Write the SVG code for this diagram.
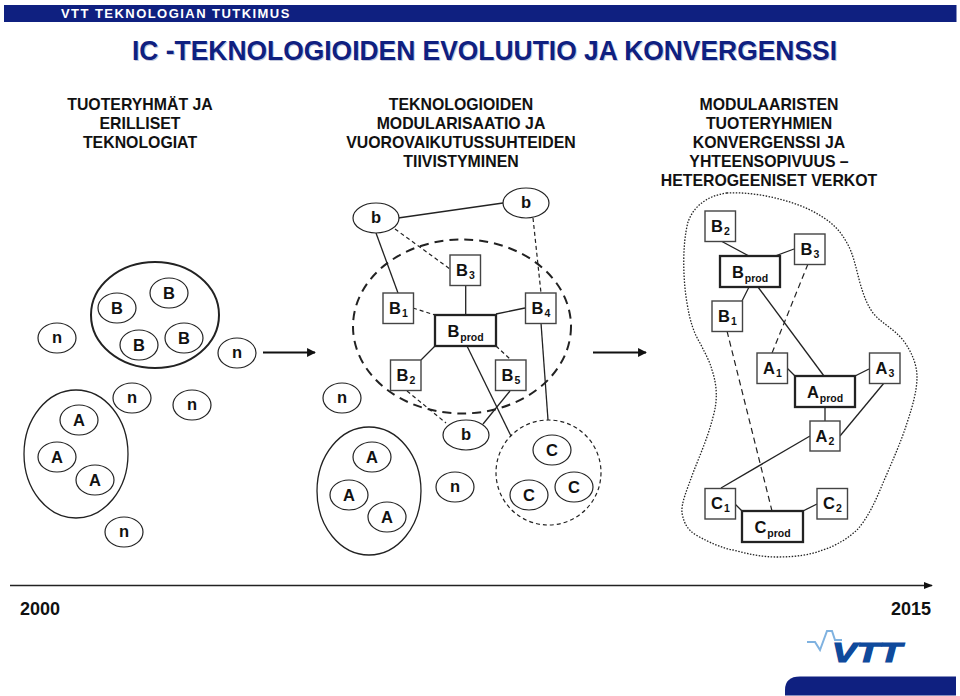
<svg xmlns="http://www.w3.org/2000/svg" width="960" height="696" viewBox="0 0 960 696">
<style>
text{font-family:"Liberation Sans",Arial,sans-serif;font-weight:bold;fill:#111}
.h{font-size:15.85px;text-anchor:middle}
.l{font-size:16.5px;text-anchor:middle}
.s{font-size:10.5px}
.y{font-size:18px}
.e{fill:#fff;stroke:#222;stroke-width:1.2}
.g{fill:none;stroke:#222;stroke-width:1.3}
.r{fill:#fff;stroke:#444;stroke-width:1.4}
.p{fill:#fff;stroke:#222;stroke-width:2.3}
.c{fill:none;stroke:#222;stroke-width:1.3}
.d{fill:none;stroke:#222;stroke-width:1.2;stroke-dasharray:4 3}
.a{fill:none;stroke:#111;stroke-width:2.2}
</style>
<defs>
<marker id="ah" viewBox="0 0 10 10" refX="9" refY="5" markerWidth="4" markerHeight="4" orient="auto"><path d="M0 0L10 5L0 10Z" fill="#111"/></marker>
<marker id="at" viewBox="0 0 10 10" refX="9" refY="5" markerWidth="7" markerHeight="7" orient="auto"><path d="M0 1L10 5L0 9Z" fill="#111"/></marker>
</defs>

<rect x="4" y="5" width="952.500" height="17" fill="#0f2080"/>
<text x="61" y="18" font-size="13" letter-spacing="1.45" style="fill:#fff">VTT TEKNOLOGIAN TUTKIMUS</text>
<text x="133" y="60.500" font-size="28.500" textLength="705" lengthAdjust="spacingAndGlyphs" style="fill:#c3c8dc">IC -TEKNOLOGIOIDEN EVOLUUTIO JA KONVERGENSSI</text>
<text x="132" y="60" font-size="28.500" textLength="705" lengthAdjust="spacingAndGlyphs" style="fill:#0f2080">IC -TEKNOLOGIOIDEN EVOLUUTIO JA KONVERGENSSI</text>

<g>
<text class="h" x="140" y="110">TUOTERYHMÄT JA</text>
<text class="h" x="140" y="129">ERILLISET</text>
<text class="h" x="140" y="148">TEKNOLOGIAT</text>
<text class="h" x="461" y="110">TEKNOLOGIOIDEN</text>
<text class="h" x="461" y="129">MODULARISAATIO JA</text>
<text class="h" x="461" y="148">VUOROVAIKUTUSSUHTEIDEN</text>
<text class="h" x="461" y="167">TIIVISTYMINEN</text>
<text class="h" x="769" y="110">MODULAARISTEN</text>
<text class="h" x="769" y="129">TUOTERYHMIEN</text>
<text class="h" x="769" y="148">KONVERGENSSI JA</text>
<text class="h" x="769" y="167">YHTEENSOPIVUUS –</text>
<text class="h" x="769" y="186">HETEROGEENISET VERKOT</text>
</g>

<g id="groups">
<ellipse cx="155" cy="315" rx="64" ry="53" fill="none" stroke="#222" stroke-width="2"/>
<ellipse class="g" cx="76" cy="454" rx="52" ry="64"/>
<ellipse class="g" cx="369" cy="491" rx="52" ry="64"/>
<ellipse cx="462" cy="326.500" rx="109" ry="87" fill="none" stroke="#222" stroke-width="2" stroke-dasharray="9 6"/>
<ellipse class="d" cx="548.500" cy="472.500" rx="52.500" ry="52.500"/>
<path id="blob" fill="none" stroke="#222" stroke-width="1.3" stroke-dasharray="1.5 1.5" d="M727 193C705 196 693 208 688 222C682 245 683 280 687 303C690 322 694 333 700 343C706 355 710 362 712 370C717 385 718 400 713 417C708 437 700 455 693 473C687 490 681 503 682 513C684 524 688 530 696 535C710 543 722 548 733 550C748 554 762 557 777 557C795 557 810 555 823 550C838 545 848 538 857 530C868 518 876 500 883 483C892 462 901 442 907 423C913 405 917 390 917 377C917 365 912 352 903 340C893 328 881 323 873 313C866 303 863 293 860 283C856 268 853 253 847 243C841 232 835 226 827 220C813 210 798 204 783 200C765 195 745 192 727 193Z"/>
</g>

<g id="connectors">
<path class="a" marker-end="url(#ah)" d="M263 352.500H315"/>
<path class="a" marker-end="url(#ah)" d="M593 352.500H646"/>
<path class="c" stroke-width="1.5" marker-end="url(#at)" d="M10 585.500H932"/>
<path class="c" d="M398 218L503 203"/>
<path class="d" d="M395 229L450 269"/>
<path class="c" d="M376 233L398 293"/>
<path class="c" d="M465.700 285V315"/>
<path class="d" d="M413 308L435 315"/>
<path class="c" d="M525 308L496 314"/>
<path class="d" d="M533 218L541 293"/>
<path class="c" d="M541 323L548 420"/>
<path class="c" d="M435 346L421 360"/>
<path class="d" d="M496 346L510 359"/>
<path class="c" d="M467 346L511 436"/>
<path class="c" d="M510 391L483 424"/>
<path class="d" d="M407 391L446 423"/>
<path class="c" d="M721 241L749 256"/>
<path class="c" d="M794 249L775 256"/>
<path class="c" d="M749 287L742 301"/>
<path class="d" style="stroke-dasharray:6 4" d="M808 264L772 353"/>
<path class="c" d="M758 287L824 376"/>
<path class="d" style="stroke-dasharray:6 4" d="M727 331L772 511"/>
<path class="c" d="M787 368L795 376"/>
<path class="c" d="M869 369L855 376"/>
<path class="c" d="M825 407V421"/>
<path class="c" d="M884 383L840 436"/>
<path class="c" d="M810 436L721 488"/>
<path class="c" d="M735 504L742 511"/>
<path class="c" d="M817 504L803 511"/>
</g>

<g id="n1"><ellipse class="e" cx="57" cy="338" rx="19" ry="15"/><text class="l" x="57" y="343">n</text></g>
<g id="b1"><ellipse class="e" cx="117" cy="308" rx="19" ry="15"/><text class="l" x="117" y="313.500">B</text></g>
<g id="b2"><ellipse class="e" cx="169" cy="293" rx="19" ry="15"/><text class="l" x="169" y="298.500">B</text></g>
<g id="b3"><ellipse class="e" cx="139" cy="345" rx="19" ry="15"/><text class="l" x="139" y="350.500">B</text></g>
<g id="b4"><ellipse class="e" cx="184" cy="338" rx="19" ry="15"/><text class="l" x="184" y="343.500">B</text></g>
<g id="n2"><ellipse class="e" cx="237" cy="353" rx="19" ry="15"/><text class="l" x="237" y="358">n</text></g>
<g id="a1"><ellipse class="e" cx="79" cy="420" rx="19" ry="15"/><text class="l" x="79" y="425.500">A</text></g>
<g id="a2"><ellipse class="e" cx="57" cy="457" rx="19" ry="15"/><text class="l" x="57" y="462.500">A</text></g>
<g id="a3"><ellipse class="e" cx="95" cy="480" rx="19" ry="15"/><text class="l" x="95" y="485.500">A</text></g>
<g id="n3"><ellipse class="e" cx="132" cy="398" rx="19" ry="15"/><text class="l" x="132" y="403">n</text></g>
<g id="n4"><ellipse class="e" cx="192" cy="405" rx="19" ry="15"/><text class="l" x="192" y="410">n</text></g>
<g id="n5"><ellipse class="e" cx="124" cy="532" rx="19" ry="15"/><text class="l" x="124" y="537">n</text></g>

<g id="mb1"><ellipse class="e" cx="376" cy="218" rx="23" ry="15"/><text class="l" x="376" y="223">b</text></g>
<g id="mb2"><ellipse class="e" cx="526" cy="203" rx="23" ry="15"/><text class="l" x="526" y="208">b</text></g>
<g id="mb3"><ellipse class="e" cx="466" cy="435" rx="23" ry="15"/><text class="l" x="466" y="440">b</text></g>
<g id="mn1"><ellipse class="e" cx="342" cy="398" rx="19" ry="15"/><text class="l" x="342" y="403">n</text></g>
<g id="mn2"><ellipse class="e" cx="455" cy="487" rx="19" ry="15"/><text class="l" x="455" y="492">n</text></g>
<g id="ma1"><ellipse class="e" cx="372" cy="457" rx="19" ry="15"/><text class="l" x="372" y="462.500">A</text></g>
<g id="ma2"><ellipse class="e" cx="349" cy="495" rx="19" ry="15"/><text class="l" x="349" y="500.500">A</text></g>
<g id="ma3"><ellipse class="e" cx="387" cy="517" rx="19" ry="15"/><text class="l" x="387" y="522.500">A</text></g>
<g id="mc1"><ellipse class="e" cx="552" cy="450" rx="19" ry="15"/><text class="l" x="552" y="455.500">C</text></g>
<g id="mc2"><ellipse class="e" cx="574" cy="487" rx="19" ry="15"/><text class="l" x="574" y="492.500">C</text></g>
<g id="mc3"><ellipse class="e" cx="529" cy="495" rx="19" ry="15"/><text class="l" x="529" y="500.500">C</text></g>

<g id="mB3"><rect class="r" x="450" y="255" width="30.500" height="30.500"/><text class="l" x="465.500" y="276">B<tspan class="s" dx="1" dy="3">3</tspan></text></g>
<g id="mB1"><rect class="r" x="383" y="293" width="30.500" height="30.500"/><text class="l" x="398.500" y="313.500">B<tspan class="s" dx="1" dy="3">1</tspan></text></g>
<g id="mB4"><rect class="r" x="525.500" y="293" width="30.500" height="30.500"/><text class="l" x="541" y="313.500">B<tspan class="s" dx="1" dy="3">4</tspan></text></g>
<g id="mB2"><rect class="r" x="390.500" y="360" width="30.500" height="30.500"/><text class="l" x="406" y="380.500">B<tspan class="s" dx="1" dy="3">2</tspan></text></g>
<g id="mB5"><rect class="r" x="495.500" y="360" width="30.500" height="30.500"/><text class="l" x="511" y="380.500">B<tspan class="s" dx="1" dy="3">5</tspan></text></g>
<g id="mBprod"><rect class="p" x="435" y="315" width="61" height="31"/><text class="l" x="465.500" y="336.500">B<tspan class="s" dx="1" dy="4">prod</tspan></text></g>

<g id="rB2"><rect class="r" x="705" y="211" width="30.500" height="30.500"/><text class="l" x="720.500" y="232">B<tspan class="s" dx="1" dy="3">2</tspan></text></g>
<g id="rB3"><rect class="r" x="794.500" y="234" width="30.500" height="30.500"/><text class="l" x="810" y="254.500">B<tspan class="s" dx="1" dy="3">3</tspan></text></g>
<g id="rBprod"><rect class="p" x="720" y="256" width="60" height="31"/><text class="l" x="750" y="277.500">B<tspan class="s" dx="1" dy="4">prod</tspan></text></g>
<g id="rB1"><rect class="r" x="712" y="301" width="30.500" height="30.500"/><text class="l" x="727.500" y="321.500">B<tspan class="s" dx="1" dy="3">1</tspan></text></g>
<g id="rA1"><rect class="r" x="757" y="353" width="30.500" height="30.500"/><text class="l" x="772.500" y="373.500">A<tspan class="s" dx="1" dy="3">1</tspan></text></g>
<g id="rA3"><rect class="r" x="869.500" y="353" width="30.500" height="30.500"/><text class="l" x="885" y="373.500">A<tspan class="s" dx="1" dy="3">3</tspan></text></g>
<g id="rAprod"><rect class="p" x="795" y="376" width="60" height="31"/><text class="l" x="825" y="397.500">A<tspan class="s" dx="1" dy="4">prod</tspan></text></g>
<g id="rA2"><rect class="r" x="810" y="421" width="30" height="30"/><text class="l" x="825" y="441.500">A<tspan class="s" dx="1" dy="3">2</tspan></text></g>
<g id="rC1"><rect class="r" x="705" y="488.500" width="30.500" height="30.500"/><text class="l" x="720.500" y="509">C<tspan class="s" dx="1" dy="3">1</tspan></text></g>
<g id="rC2"><rect class="r" x="817" y="488.500" width="30.500" height="30.500"/><text class="l" x="832.500" y="509">C<tspan class="s" dx="1" dy="3">2</tspan></text></g>
<g id="rCprod"><rect class="p" x="742" y="511" width="61" height="31"/><text class="l" x="772.500" y="532.500">C<tspan class="s" dx="1" dy="4">prod</tspan></text></g>

<text class="y" x="20" y="615">2000</text>
<text class="y" x="891" y="615">2015</text>

<g id="logo">
<path d="M807 642H815L820 650L827 631H832L835 640H842" fill="none" stroke="#7fb2e0" stroke-width="2"/>
<text x="832" y="662" font-size="27" font-style="italic" textLength="70" lengthAdjust="spacingAndGlyphs" style="fill:#0f4a9c;stroke:#0f4a9c;stroke-width:1.2">VTT</text>
</g>
<path d="M785 695.500V690Q785 676.500 800 676.500H956V695.500Z" fill="#0f2080"/>
</svg>
